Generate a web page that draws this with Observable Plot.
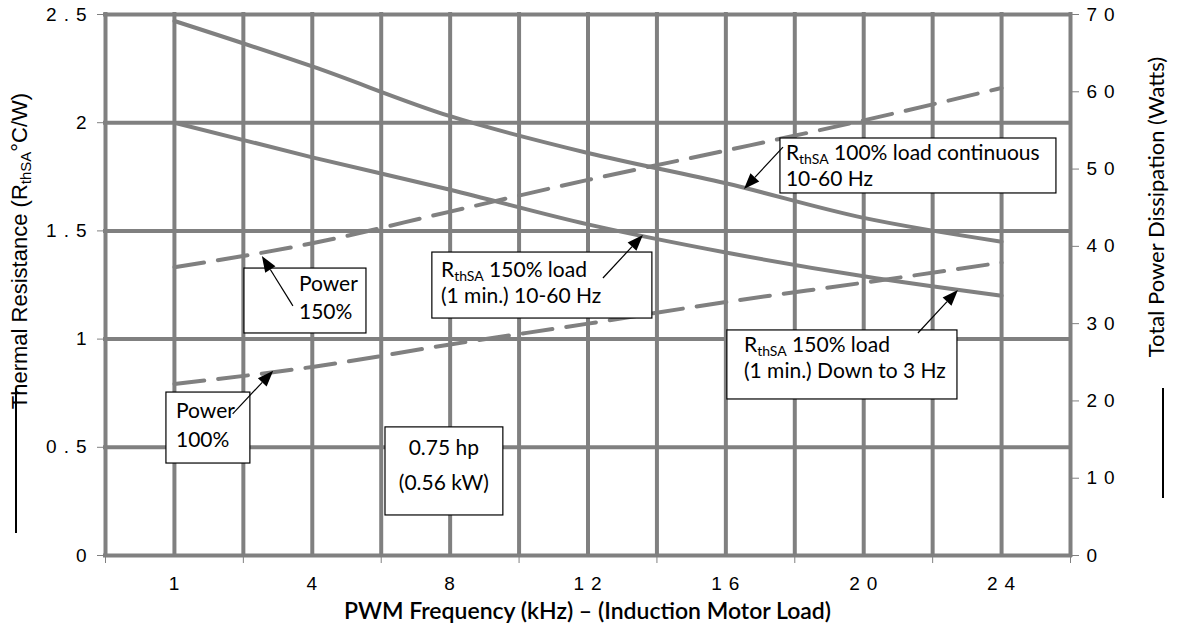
<!DOCTYPE html>
<html><head><meta charset="utf-8">
<script src="https://cdn.jsdelivr.net/npm/d3@7"></script>
<script src="https://cdn.jsdelivr.net/npm/@observablehq/plot@0.6"></script>
<style>
body{margin:0;background:#fff;}
#chart svg{display:block}
#chart svg [aria-label="y-axis tick label"] text,
#chart svg [aria-label="x-axis tick label"] text{letter-spacing:7px;}
</style></head><body><div id="chart"></div>
<script>
// ---- data ----
const categories = ["1","4","8","12","16","20","24"];            // PWM frequency (kHz)
const rth100Cont = [2.47, 2.26, 2.03, 1.86, 1.72, 1.56, 1.45];   // °C/W, left axis
const rth150     = [2.00, 1.84, 1.69, 1.53, 1.40, 1.29, 1.20];   // °C/W, left axis
const power150   = [37.3, 40.4, 44.5, 48.6, 52.4, 56.3, 60.5];   // W, right axis
const power100   = [22.2, 24.4, 27.3, 30.0, 32.8, 35.3, 37.9];   // W, right axis
const leftTicks  = [0, 0.5, 1, 1.5, 2, 2.5];
const rightTicks = [0, 10, 20, 30, 40, 50, 60, 70];
const rMax = 2.5, wMax = 70;

// annotations in data units (x = category index, y = left-axis value)
const notes = [
  {box:[0.508,1.393,1.026,1.326], anchor:"start", lines:[[0.907,1.220,[["Power"]]],[0.907,1.091,[["150%"]]]], arrow:[0.863,1.151,0.638,1.382]},
  {box:[-0.058,0.551,0.425,0.753], anchor:"start", lines:[[0.015,0.633,[["Power"]]],[0.015,0.499,[["100%"]]]], arrow:[0.426,0.652,0.720,0.852]},
  {box:[1.531,2.386,0.185,0.592], anchor:"middle", lines:[[1.958,0.462,[["0.75 hp"]]],[1.958,0.300,[["(0.56 kW)"]]]]},
  {box:[1.871,3.467,1.095,1.400], anchor:"start", lines:[[1.937,1.285,[["R"],["thSA",1],[" 150% load"]]],[1.937,1.165,[["(1 min.) 10-60 Hz"]]]], arrow:[3.112,1.280,3.402,1.479]},
  {box:[4.396,6.398,1.673,1.927], anchor:"start", lines:[[4.439,1.825,[["R"],["thSA",1],[" 100% load continuous"]]],[4.439,1.705,[["10-60 Hz"]]]], arrow:[4.418,1.885,4.135,1.691]},
  {box:[4.011,5.680,0.721,1.040], anchor:"start", lines:[[4.135,0.938,[["R"],["thSA",1],[" 150% load"]]],[4.135,0.818,[["(1 min.) Down to 3 Hz"]]]], arrow:[5.397,1.026,5.687,1.225]}
];

const table = categories.map((c, i) => ({i, c, a: rth100Cont[i], b: rth150[i], p: power150[i], q: power100[i]}));
const toR = w => w * rMax / wMax;
const gridX = d3.range(-0.5, categories.length, 0.5);
const bounds = d3.range(-0.5, categories.length, 1);
const gray = "#808080";

const plot = Plot.plot({
  width: 1178, height: 637,
  marginLeft: 105, marginRight: 108, marginTop: 14, marginBottom: 82,
  x: {domain: [-0.5, categories.length - 0.5], axis: null},
  y: {domain: [0, rMax], axis: null},
  style: {fontFamily: "'Liberation Sans', Arial, sans-serif", fontSize: "19px", background: "#fff", color: "#000", overflow: "visible"},
  marks: [
    Plot.ruleX(gridX, {stroke: gray, strokeWidth: 4, strokeLinecap: "square"}),
    Plot.ruleY(leftTicks, {stroke: gray, strokeWidth: 4, strokeLinecap: "square"}),
    Plot.axisY(leftTicks, {anchor: "left", label: null, tickSize: 8, tickPadding: 4, stroke: gray, strokeWidth: 1, fill: "#000",
      tickFormat: v => String(v)}),
    Plot.axisY(rightTicks.map(toR), {anchor: "right", label: null, tickSize: 8, tickPadding: 8, stroke: gray, strokeWidth: 1, fill: "#000",
      tickFormat: v => String(Math.round(v * wMax / rMax))}),
    Plot.axisX(bounds, {anchor: "bottom", label: null, tickSize: 8, tickPadding: 0, stroke: gray, strokeWidth: 1, tickFormat: () => ""}),
    Plot.axisX(d3.range(categories.length), {anchor: "bottom", label: null, tickSize: 0, tickPadding: 21, dx: 3, fill: "#000", tickFormat: i => categories[i]}),
    Plot.line(table, {x: "i", y: "a", stroke: gray, strokeWidth: 4, curve: "monotone-x"}),
    Plot.line(table, {x: "i", y: "b", stroke: gray, strokeWidth: 4, curve: "monotone-x"}),
    Plot.line(table, {x: "i", y: d => toR(d.p), stroke: gray, strokeWidth: 4, strokeDasharray: "30,14", curve: "monotone-x"}),
    Plot.line(table, {x: "i", y: d => toR(d.q), stroke: gray, strokeWidth: 4, strokeDasharray: "30,14", curve: "monotone-x"})
  ]
});
document.getElementById("chart").append(plot);

const svg = d3.select(plot);
const sx = plot.scale("x"), sy = plot.scale("y");
const X = v => sx.apply(v), Y = v => sy.apply(v);
const ann = svg.append("g").attr("font-family", "Lato, 'Open Sans', sans-serif").attr("font-size", 21);
for (const n of notes) {
  const [x1, x2, y1, y2] = n.box;
  ann.append("rect").attr("x", X(x1)).attr("y", Y(y2)).attr("width", X(x2) - X(x1)).attr("height", Y(y1) - Y(y2))
    .attr("fill", "#fff").attr("stroke", "#000").attr("stroke-width", 1.2);
  for (const [lx, ly, segs] of n.lines) {
    const t = ann.append("text").attr("x", X(lx)).attr("y", Y(ly)).attr("text-anchor", n.anchor).attr("fill", "#000");
    let shifted = false;
    for (const [s, sub] of segs) {
      const ts = t.append("tspan").text(s);
      if (sub) { ts.attr("font-size", 14).attr("dy", 4); shifted = true; }
      else if (shifted) { ts.attr("dy", -4); shifted = false; }
    }
  }
  if (n.arrow) {
    const [ax1, ay1, ax2, ay2] = n.arrow;
    const p1 = [X(ax1), Y(ay1)], p2 = [X(ax2), Y(ay2)];
    const dx = p2[0] - p1[0], dy = p2[1] - p1[1], L = Math.hypot(dx, dy), ux = dx / L, uy = dy / L;
    const hl = 16, hw = 6;
    const b = [p2[0] - ux * hl, p2[1] - uy * hl];
    ann.append("line").attr("x1", p1[0]).attr("y1", p1[1]).attr("x2", b[0]).attr("y2", b[1]).attr("stroke", "#000").attr("stroke-width", 1.2);
    ann.append("polygon").attr("points", [p2, [b[0] - uy * hw, b[1] + ux * hw], [b[0] + uy * hw, b[1] - ux * hw]].map(p => p.join(",")).join(" ")).attr("fill", "#000");
  }
}

// axis titles
const lt = svg.append("text").attr("transform", `translate(27,251) rotate(-90)`).attr("text-anchor", "middle")
  .attr("font-family", "'Liberation Sans', Arial, sans-serif").attr("font-size", 22).attr("fill", "#000");
lt.append("tspan").text("Thermal Resistance (R");
lt.append("tspan").text("thSA").attr("font-size", 15).attr("dy", 4);
lt.append("tspan").text("°C/W)").attr("dy", -4);
svg.append("line").attr("x1", 16).attr("x2", 16).attr("y1", 388).attr("y2", 533).attr("stroke", "#000").attr("stroke-width", 2);

svg.append("text").attr("transform", `translate(1164,207) rotate(-90)`).attr("text-anchor", "middle")
  .attr("font-family", "Lato, 'Open Sans', sans-serif").attr("font-size", 22).attr("fill", "#000")
  .text("Total Power Dissipation (Watts)");
svg.append("line").attr("x1", 1163).attr("x2", 1163).attr("y1", 388).attr("y2", 498).attr("stroke", "#000").attr("stroke-width", 2);

svg.append("text").attr("x", (X(-0.5) + X(categories.length - 0.5)) / 2).attr("y", 619).attr("text-anchor", "middle")
  .attr("font-family", "Lato, 'Open Sans', sans-serif").attr("font-weight", 600).attr("font-size", 23).attr("fill", "#000")
  .text("PWM Frequency (kHz) – (Induction Motor Load)");
</script></body></html>
